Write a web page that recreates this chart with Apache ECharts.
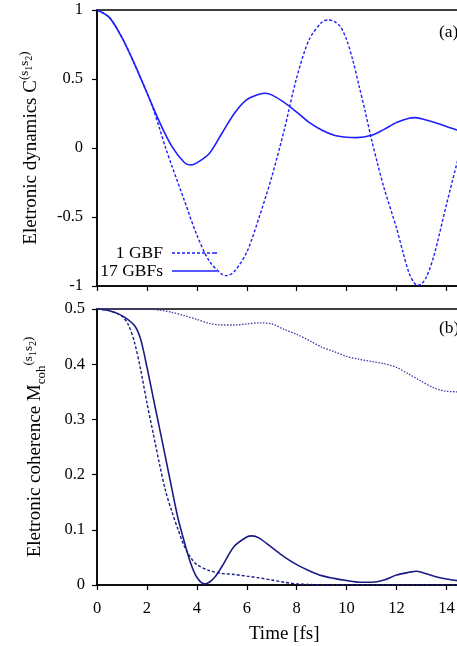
<!DOCTYPE html>
<html>
<head>
<meta charset="utf-8">
<script src="https://cdn.jsdelivr.net/npm/echarts@6/dist/echarts.min.js"></script>
<style>
html,body{margin:0;padding:0;background:#fff;overflow:hidden;}
#chart{width:500px;height:646px;}
</style>
</head>
<body>
<div id="chart"></div>
<script>
// ---------- Data ----------
// Panel (a): electronic dynamics C^(s1s2)
var tA17 = [0, 0.5, 1.0, 1.5, 2.0, 2.5, 3.0, 3.5, 3.75, 4.0, 4.5, 5.0, 5.5, 6.0, 6.5, 6.75, 7.0, 7.5, 8.0, 8.5, 9.0, 9.5, 10.0, 10.4, 11.0, 11.5, 12.0, 12.5, 12.75, 13.0, 13.5, 14.0, 14.45];
var cA17 = [1.0, 0.945, 0.80, 0.61, 0.40, 0.19, 0.012, -0.105, -0.123, -0.108, -0.04, 0.105, 0.25, 0.35, 0.39, 0.397, 0.385, 0.33, 0.26, 0.185, 0.13, 0.092, 0.078, 0.075, 0.092, 0.135, 0.185, 0.216, 0.22, 0.212, 0.187, 0.155, 0.128];

var tA1 = [0, 0.5, 1.0, 1.5, 2.0, 2.25, 2.5, 2.75, 3.0, 3.5, 4.0, 4.5, 5.0, 5.2, 5.5, 6.0, 6.5, 7.0, 7.5, 8.0, 8.5, 9.0, 9.25, 9.5, 9.75, 10.0, 10.25, 10.5, 10.75, 11.0, 11.25, 11.5, 12.0, 12.25, 12.5, 12.7, 12.85, 13.0, 13.2, 13.5, 14.0, 14.45];
var cA1 = [1.0, 0.945, 0.80, 0.61, 0.40, 0.285, 0.145, 0.0, -0.13, -0.38, -0.63, -0.82, -0.915, -0.925, -0.895, -0.755, -0.50, -0.21, 0.13, 0.51, 0.785, 0.91, 0.928, 0.918, 0.88, 0.785, 0.635, 0.45, 0.26, 0.06, -0.12, -0.29, -0.58, -0.75, -0.905, -0.975, -0.995, -0.985, -0.935, -0.78, -0.41, -0.09];

// Panel (b): electronic coherence M_coh^(s1s2)
var tB17 = [0, 0.5, 1.0, 1.5, 1.75, 2.0, 2.25, 2.5, 2.75, 3.0, 3.25, 3.5, 3.75, 4.0, 4.3, 4.5, 4.75, 5.0, 5.5, 6.0, 6.2, 6.5, 7.0, 7.5, 8.0, 8.5, 9.0, 9.5, 10.0, 10.5, 11.0, 11.5, 12.0, 12.5, 12.8, 13.0, 13.5, 14.0, 14.45];
var mB17 = [0.5, 0.497, 0.488, 0.47, 0.445, 0.395, 0.34, 0.285, 0.23, 0.174, 0.12, 0.078, 0.04, 0.014, 0.002, 0.005, 0.016, 0.033, 0.07, 0.087, 0.089, 0.085, 0.068, 0.051, 0.037, 0.026, 0.017, 0.012, 0.008, 0.005, 0.005, 0.009, 0.018, 0.023, 0.025, 0.023, 0.016, 0.011, 0.008];

var tB1 = [0, 0.5, 1.0, 1.25, 1.5, 1.75, 2.0, 2.25, 2.5, 2.75, 3.0, 3.25, 3.5, 3.75, 4.0, 4.5, 5.0, 5.5, 6.0, 6.5, 7.0, 7.5, 8.0, 8.5, 9.0, 10.0, 11.0, 12.0, 13.0, 14.0, 14.45];
var mB1 = [0.5, 0.497, 0.487, 0.472, 0.44, 0.39, 0.33, 0.275, 0.22, 0.17, 0.133, 0.1, 0.07, 0.05, 0.037, 0.026, 0.021, 0.019, 0.016, 0.013, 0.009, 0.005, 0.002, 0.001, 0.0, 0.0, 0.0, 0.0, 0.0, 0.0, 0.0];

var tBd = [0, 1.0, 2.0, 2.5, 3.0, 3.5, 4.0, 4.5, 5.0, 5.5, 6.0, 6.5, 7.0, 7.5, 8.0, 8.5, 9.0, 9.5, 10.0, 10.5, 11.0, 11.5, 12.0, 12.5, 13.0, 13.5, 14.0, 14.45];
var mBd = [0.5, 0.5, 0.5, 0.498, 0.494, 0.488, 0.481, 0.474, 0.471, 0.471, 0.473, 0.475, 0.473, 0.463, 0.454, 0.443, 0.431, 0.423, 0.414, 0.409, 0.405, 0.401, 0.394, 0.382, 0.369, 0.357, 0.351, 0.35];

// Axis ticks
var xMin = 0, xMax = 15, xStep = 2;
var yAMin = -1, yAMax = 1, yAStep = 0.5;
var yBMin = 0, yBMax = 0.5, yBStep = 0.1;

function pairs(t, v) { return t.map(function (x, i) { return [x, v[i]]; }); }

var FONT = "'Liberation Serif', 'Times New Roman', serif";
var BLUE = '#1e1eff';
var NAVY = '#1b1b85';

// legend icons: solid and dashed line samples
var ICON_SOLID = 'path://M0,0h45v1.6h-45z';
var ICON_DASH = 'path://M0,0h3v1.6h-3z M5,0h3v1.6h-3z M10,0h3v1.6h-3z M15,0h3v1.6h-3z M20,0h3v1.6h-3z M25,0h3v1.6h-3z M30,0h3v1.6h-3z M35,0h3v1.6h-3z M40,0h3v1.6h-3z M43,0h2v1.6h-2z';

var chart = echarts.init(document.getElementById('chart'), null, {renderer: 'canvas'});

function xAx(idx, showLabels) {
  return {
    type: 'value', gridIndex: idx, min: xMin, max: xMax, interval: xStep,
    axisLine: {show: true, onZero: false, lineStyle: {color: '#000', width: 1.5}},
    axisTick: {show: true, length: 5, lineStyle: {color: '#000', width: 1.2}},
    axisLabel: {show: showLabels, color: '#000', fontFamily: FONT, fontSize: 16.5, margin: 15},
    splitLine: {show: false}
  };
}

var richBase = {
  m: {fontFamily: FONT, fontSize: 19, color: '#000', lineHeight: 24, verticalAlign: 'bottom', padding: [0, 0, 3, 0]},
  sub: {fontFamily: FONT, fontSize: 13, color: '#000', lineHeight: 15, verticalAlign: 'bottom', padding: [0, 0, 0, 0]},
  sup: {fontFamily: FONT, fontSize: 13, color: '#000', lineHeight: 15, verticalAlign: 'bottom', padding: [0, 0, 13, 0]},
  ss: {fontFamily: FONT, fontSize: 10, color: '#000', lineHeight: 12, verticalAlign: 'bottom', padding: [0, 0, 10, 0]}
};

var legendText = {fontFamily: FONT, fontSize: 17.5, color: '#000', lineHeight: 18, padding: [0, 4, 0, 0]};

var option = {
  backgroundColor: '#fff',
  animation: false,
  grid: [
    {left: 97, top: 10, width: 374.4, height: 276, show: true, borderColor: '#000', borderWidth: 1.5, backgroundColor: 'transparent'},
    {left: 97, top: 309, width: 374.4, height: 276, show: true, borderColor: '#000', borderWidth: 1.5, backgroundColor: 'transparent'}
  ],
  xAxis: [
    xAx(0, false),
    Object.assign(xAx(1, true), {
      name: 'Time [fs]', nameLocation: 'middle', nameGap: 40,
      nameTextStyle: {fontFamily: FONT, fontSize: 19, color: '#000'}
    })
  ],
  yAxis: [
    {
      type: 'value', gridIndex: 0, min: yAMin, max: yAMax, interval: yAStep,
      axisLine: {show: true, onZero: false, lineStyle: {color: '#000', width: 1.5}},
      axisTick: {show: true, length: 5, lineStyle: {color: '#000', width: 1.2}},
      axisLabel: {color: '#000', fontFamily: FONT, fontSize: 16.5, margin: 14},
      splitLine: {show: false},
      name: '{m|Eletronic dynamics C}{sup|(s}{ss|1}{sup|s}{ss|2}{sup|)}',
      nameLocation: 'middle', nameGap: 53, nameRotate: 90,
      nameTextStyle: {rich: richBase}
    },
    {
      type: 'value', gridIndex: 1, min: yBMin, max: yBMax, interval: yBStep,
      axisLine: {show: true, onZero: false, lineStyle: {color: '#000', width: 1.5}},
      axisTick: {show: true, length: 5, lineStyle: {color: '#000', width: 1.2}},
      axisLabel: {color: '#000', fontFamily: FONT, fontSize: 16.5, margin: 12},
      splitLine: {show: false},
      name: '{m|Eletronic coherence M}{sub|coh}{sup|(s}{ss|1}{sup|s}{ss|2}{sup|)}',
      nameLocation: 'middle', nameGap: 49, nameRotate: 90,
      nameTextStyle: {rich: richBase}
    }
  ],
  legend: [
    {
      data: [{name: '1 GBF', icon: ICON_DASH}], right: 283, top: 244, orient: 'vertical', align: 'right', padding: 0,
      itemWidth: 45, itemHeight: 1.6, itemStyle: {borderWidth: 0},
      textStyle: legendText
    },
    {
      data: [{name: '17 GBFs', icon: ICON_SOLID}], right: 283, top: 262, orient: 'vertical', align: 'right', padding: 0,
      itemWidth: 45, itemHeight: 1.6, itemStyle: {borderWidth: 0},
      textStyle: legendText
    }
  ],
  graphic: [
    {type: 'text', left: 439, top: 23, style: {text: '(a)', fontFamily: FONT, fontSize: 17.5, fill: '#000'}},
    {type: 'text', left: 439, top: 319, style: {text: '(b)', fontFamily: FONT, fontSize: 17.5, fill: '#000'}}
  ],
  series: [
    {
      name: '1 GBF', type: 'line', xAxisIndex: 0, yAxisIndex: 0, data: pairs(tA1, cA1),
      symbol: 'none', smooth: 0.3, color: BLUE,
      lineStyle: {color: BLUE, width: 1.4, type: [3, 2]}
    },
    {
      name: '17 GBFs', type: 'line', xAxisIndex: 0, yAxisIndex: 0, data: pairs(tA17, cA17),
      symbol: 'none', smooth: 0.3, color: BLUE,
      lineStyle: {color: BLUE, width: 1.6}
    },
    {
      name: 'M 1 GBF', type: 'line', xAxisIndex: 1, yAxisIndex: 1, data: pairs(tB1, mB1),
      symbol: 'none', smooth: 0.3, color: NAVY,
      lineStyle: {color: NAVY, width: 1.4, type: [3, 2]}
    },
    {
      name: 'M 17 GBFs', type: 'line', xAxisIndex: 1, yAxisIndex: 1, data: pairs(tB17, mB17),
      symbol: 'none', smooth: 0.3, color: NAVY,
      lineStyle: {color: NAVY, width: 1.6}
    },
    {
      name: 'M dotted', type: 'line', xAxisIndex: 1, yAxisIndex: 1, data: pairs(tBd, mBd),
      symbol: 'none', smooth: 0.3, color: '#3a3aa0',
      lineStyle: {color: '#3a3aa0', width: 1.3, type: [1.5, 1.5]}
    }
  ]
};
chart.setOption(option);
</script>
</body>
</html>
